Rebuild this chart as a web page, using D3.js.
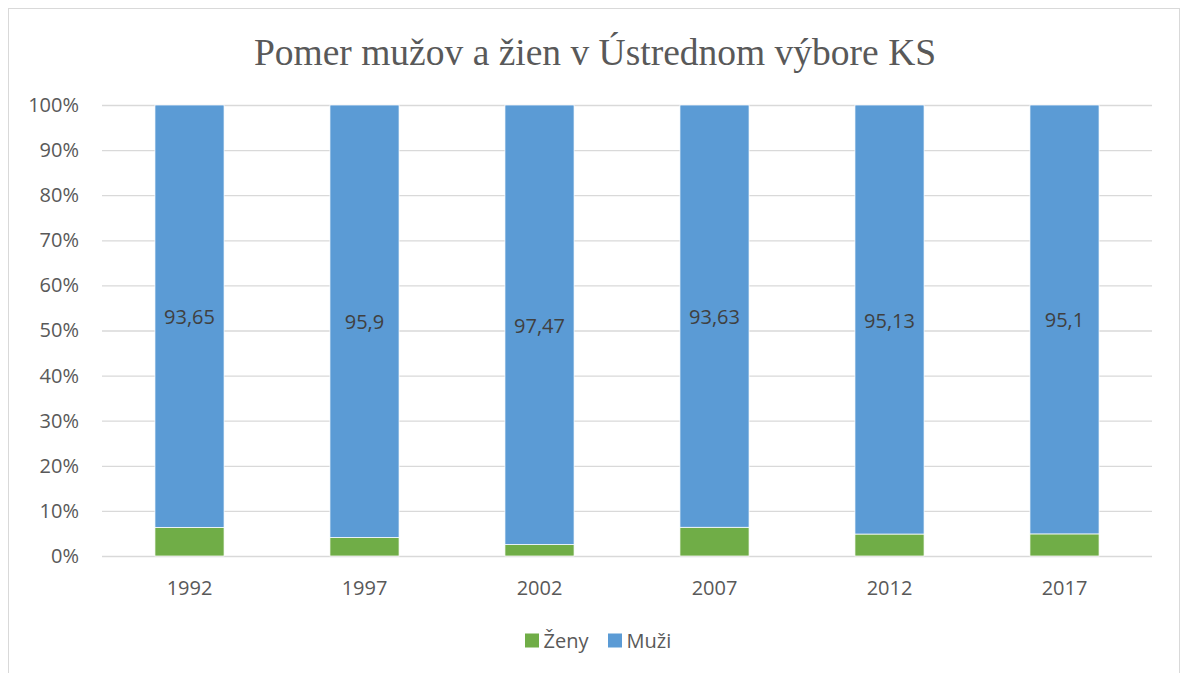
<!DOCTYPE html>
<html><head><meta charset="utf-8">
<script src="https://cdn.jsdelivr.net/npm/d3@7"></script>
<style>body{margin:0;background:#fff}svg{display:block}</style>
</head><body>
<svg id="c" width="1181" height="673"></svg>
<script>
const years = ["1992","1997","2002","2007","2012","2017"];
const zeny = [6.35, 4.1, 2.53, 6.37, 4.87, 4.9];
const muzi = [93.65, 95.9, 97.47, 93.63, 95.13, 95.1];
const muziLabels = ["93,65","95,9","97,47","93,63","95,13","95,1"];
const yTicks = [0,10,20,30,40,50,60,70,80,90,100];
const seriesNames = ["Ženy","Muži"];
const colors = ["#70AD47","#5B9BD5"];

const svg = d3.select("#c");
const font = "'Open Sans', 'Noto Sans', sans-serif";
svg.append("rect").attr("x",8.5).attr("y",8.5).attr("width",1171).attr("height",700)
  .attr("fill","#fff").attr("stroke","#d9d9d9").attr("stroke-width",1);

const L=102, R=1152, T=105, B=556;
const x = d3.scaleBand().domain(years).range([L,R]).paddingInner(0.605).paddingOuter(0.3025);
const y = d3.scaleLinear().domain([0,100]).range([B,T]);

svg.append("text").attr("x",595).attr("y",65).attr("text-anchor","middle")
  .attr("font-family","'Liberation Serif', 'Times New Roman', serif").attr("font-size",37.5)
  .attr("fill","#595959").text("Pomer mužov a žien v Ústrednom výbore KS");

const yAxis = d3.axisLeft(y).tickValues(yTicks).tickSize(-(R-L)).tickFormat(d=>d+"%");
const gy = svg.append("g").attr("transform",`translate(${L},0)`).call(yAxis);
gy.select(".domain").remove();
gy.selectAll(".tick line").attr("stroke","#d9d9d9").attr("stroke-width",1.3);
gy.selectAll(".tick text").attr("x",-23).attr("font-family",font).attr("font-size",20).attr("fill","#595959");

const xAxis = d3.axisBottom(x).tickSize(0).tickPadding(0);
const gx = svg.append("g").attr("transform",`translate(0,${B})`).call(xAxis);
gx.select(".domain").remove();
gx.selectAll(".tick text").attr("y",39).attr("dy",0).attr("font-family",font).attr("font-size",20).attr("fill","#595959");

const data = years.map((yr,i)=>({year:yr, Ženy:zeny[i], Muži:muzi[i]}));
const stack = d3.stack().keys(seriesNames)(data);
stack.forEach((s,si)=>{
  svg.append("g").selectAll("rect").data(s).join("rect")
    .attr("x",d=>x(d.data.year)).attr("width",x.bandwidth())
    .attr("y",d=>y(d[1])).attr("height",d=>y(d[0])-y(d[1]))
    .attr("fill",colors[si]).attr("stroke","#fff").attr("stroke-width",0.75);
});
const ms = stack[1];
svg.append("g").selectAll("text").data(ms).join("text")
  .attr("x",d=>x(d.data.year)+x.bandwidth()/2)
  .attr("y",d=>y((d[0]+d[1])/2)+8)
  .attr("text-anchor","middle").attr("font-family",font).attr("font-size",20).attr("fill","#404040")
  .text((d,i)=>muziLabels[i]);

const lg = svg.append("g");
const legX=[525,608];
seriesNames.forEach((n,i)=>{
  lg.append("rect").attr("x",legX[i]).attr("y",633.5).attr("width",14).attr("height",14).attr("fill",colors[i]);
  lg.append("text").attr("x",legX[i]+18.5).attr("y",647.5).attr("font-family",font).attr("font-size",20).attr("fill","#595959").text(n);
});
</script>
</body></html>
